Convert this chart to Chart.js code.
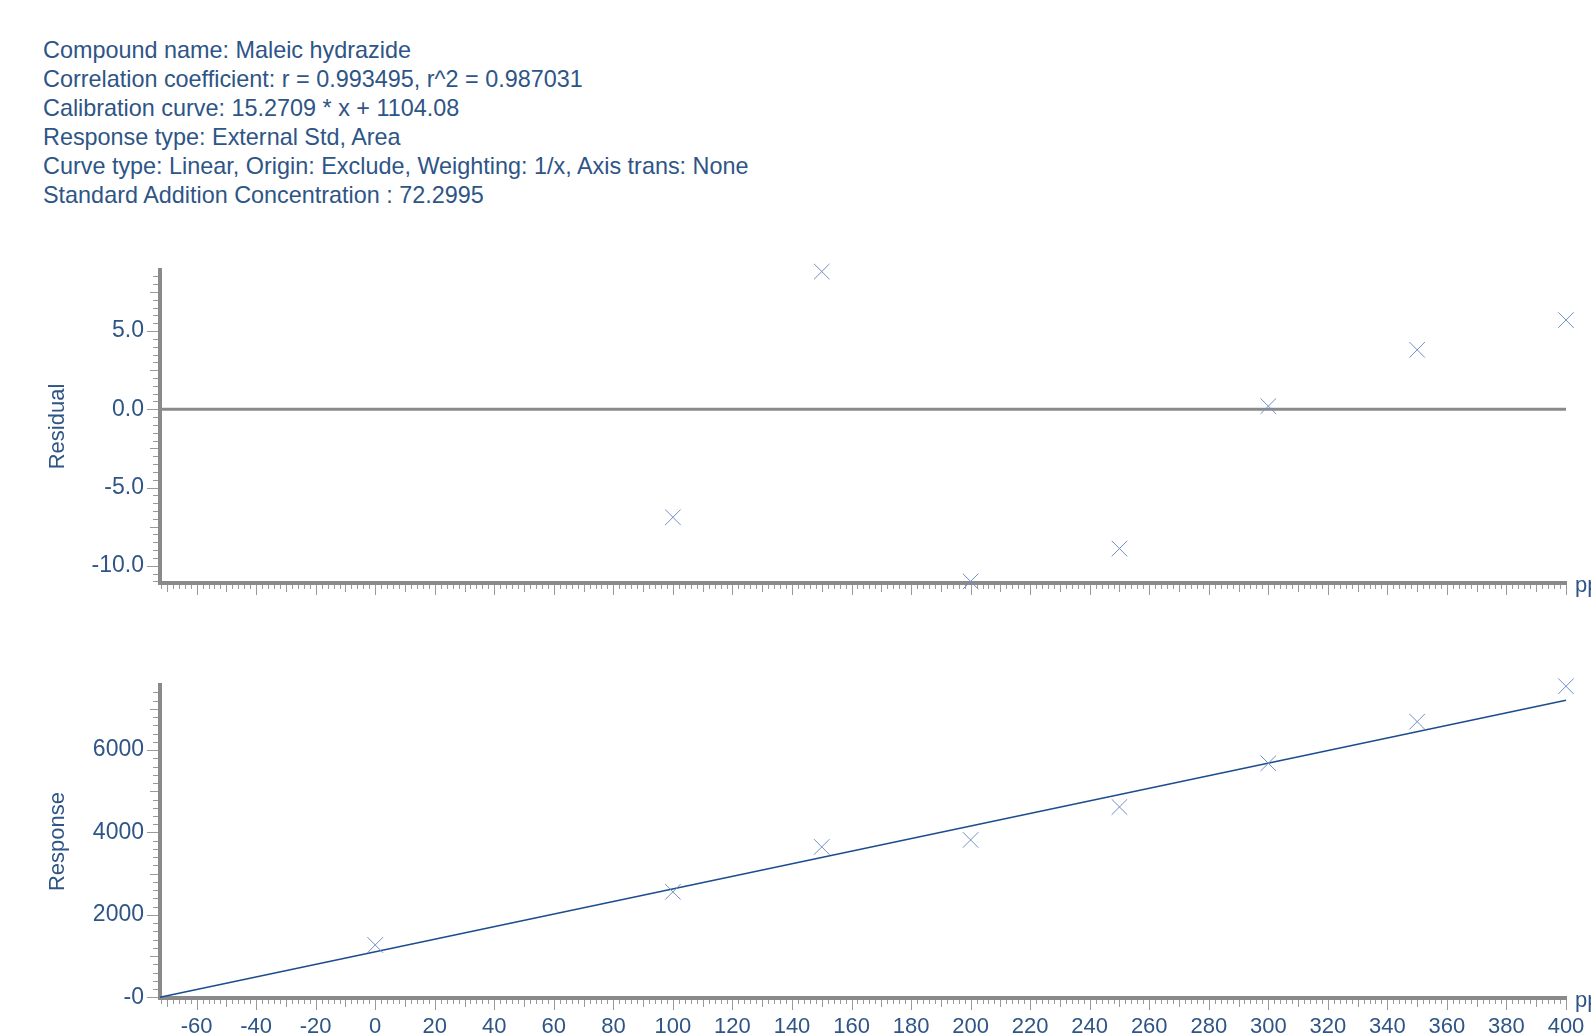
<!DOCTYPE html>
<html>
<head>
<meta charset="utf-8">
<script src="https://cdn.jsdelivr.net/npm/chart.js@4.4.1/dist/chart.umd.min.js"></script>
<style>
  body { margin: 0; background: #fff; overflow: hidden; width: 1591px; height: 1034px; position: relative; font-family: "Liberation Sans", Arial, sans-serif; }
  #info { position: absolute; left: 43px; top: 36px; font-size: 23.4px; line-height: 29px; color: #2e5586; white-space: pre; }
  canvas { position: absolute; left: 0; }
</style>
</head>
<body>
<div id="info"></div>
<canvas id="resid" width="1591" height="360" style="top:240px"></canvas>
<canvas id="resp" width="1591" height="374" style="top:660px"></canvas>
<script>
// header lines
var infoLines = [
  "Compound name: Maleic hydrazide",
  "Correlation coefficient: r = 0.993495, r^2 = 0.987031",
  "Calibration curve: 15.2709 * x + 1104.08",
  "Response type: External Std, Area",
  "Curve type: Linear, Origin: Exclude, Weighting: 1/x, Axis trans: None",
  "Standard Addition Concentration : 72.2995"
];

// residual plot (no point at 0)
var residLevels = [100, 150, 200, 250, 300, 350, 400];
var residuals = [-6.9, 8.8, -11.0, -8.9, 0.2, 3.8, 5.7];

// response plot
var levels = [0, 100, 150, 200, 250, 300, 350, 400];
var responses = [1270, 2560, 3650, 3820, 4620, 5680, 6690, 7550];

// fitted line
var slope = 15.2709;
var intercept = 1104.08;
var addConc = 72.2995;

// labelled ticks
var xTicks = [-60, -40, -20, 0, 20, 40, 60, 80, 100, 120, 140, 160, 180, 200, 220, 240, 260, 280, 300, 320, 340, 360, 380, 400];
var residTicks = [-10, -5, 0, 5];
var respTicks = [0, 2000, 4000, 6000];

var xMin = -addConc, xMax = 400;
var textColor = '#2e5586';
var axisColor = '#8a8a8a';
var markColor = '#6f8fc6';
var font = '"Liberation Sans", Arial, sans-serif';

document.getElementById('info').textContent = infoLines.join('\n');

function isMult(v, step) {
  var q = v / step;
  return Math.abs(q - Math.round(q)) < 1e-6;
}

// small tick marks on both axes + unit label
var tickMarks = {
  id: 'tickMarks',
  afterDraw: function(chart, args, opts) {
    var ctx = chart.ctx, x = chart.scales.x, y = chart.scales.y, a = chart.chartArea;
    ctx.save();
    ctx.strokeStyle = '#999';
    ctx.lineWidth = 1;
    ctx.beginPath();
    var i, v, p, len;
    for (i = Math.ceil(y.min / opts.yMinor); i * opts.yMinor <= y.max; i++) {
      v = i * opts.yMinor;
      p = Math.round(y.getPixelForValue(v)) + 0.5;
      len = isMult(v, opts.yMajor) ? 11 : isMult(v, opts.yMid) ? 8 : 5;
      ctx.moveTo(a.left - 2, p);
      ctx.lineTo(a.left - 2 - len, p);
    }
    for (i = Math.ceil(x.min / opts.xMinor); i * opts.xMinor <= x.max; i++) {
      v = i * opts.xMinor;
      p = Math.round(x.getPixelForValue(v)) + 0.5;
      len = isMult(v, opts.xMajor) ? 10 : isMult(v, opts.xMid) ? 7 : 4;
      ctx.moveTo(p, a.bottom + 2);
      ctx.lineTo(p, a.bottom + 2 + len);
    }
    ctx.stroke();
    ctx.fillStyle = textColor;
    ctx.font = '22px ' + font;
    ctx.textBaseline = 'alphabetic';
    ctx.fillText('ppb', a.right + 9, a.bottom + 9);
    ctx.restore();
  }
};

function fixTicks(values) {
  return function(s) { s.ticks = values.map(function(v) { return { value: v }; }); };
}

function xScale(showLabels, h) {
  return {
    type: 'linear', min: xMin, max: xMax,
    grid: { display: false, drawTicks: false },
    border: { color: axisColor, width: 4 },
    ticks: {
      display: showLabels, autoSkip: false,
      maxRotation: 0, padding: 16, color: textColor, font: { size: 22, family: font }
    },
    afterBuildTicks: fixTicks(xTicks),
    afterFit: function(s) { s.height = h; s.paddingLeft = 0; s.paddingRight = 0; }
  };
}

function yScale(title, min, max, values, fmt) {
  return {
    type: 'linear', min: min, max: max,
    grid: { display: false, drawTicks: false },
    border: { color: axisColor, width: 4 },
    title: { display: true, text: title, color: textColor, font: { size: 22, family: font }, padding: { top: 45, bottom: 0 } },
    ticks: { padding: 16, color: textColor, font: { size: 23, family: font }, callback: fmt },
    afterBuildTicks: fixTicks(values),
    afterFit: function(s) { s.width = 160; s.paddingTop = 0; s.paddingBottom = 0; }
  };
}

var residPts = residLevels.map(function(x, i) { return { x: x, y: residuals[i] }; });
new Chart(document.getElementById('resid'), {
  type: 'scatter',
  data: {
    datasets: [
      { data: residPts, pointStyle: 'crossRot', pointRadius: 11, borderColor: markColor, borderWidth: 1, clip: false },
      { data: [{ x: xMin, y: 0 }, { x: xMax, y: 0 }], showLine: true, pointRadius: 0, borderColor: axisColor, borderWidth: 3 }
    ]
  },
  options: {
    responsive: false, animation: false,
    layout: { padding: { top: 30, right: 25, left: 0, bottom: 0 } },
    plugins: { legend: { display: false }, tooltip: { enabled: false },
      tickMarks: { yMinor: 0.5, yMid: 2.5, yMajor: 5, xMinor: 2, xMid: 10, xMajor: 20 } },
    scales: {
      x: xScale(false, 17),
      y: yScale('Residual', -11.1, 8.9, residTicks, function(v) { return v.toFixed(1); })
    }
  },
  plugins: [tickMarks]
});

var respPts = levels.map(function(x, i) { return { x: x, y: responses[i] }; });
var fitLine = [xMin, xMax].map(function(x) { return { x: x, y: slope * x + intercept }; });
new Chart(document.getElementById('resp'), {
  type: 'scatter',
  data: {
    datasets: [
      { data: respPts, pointStyle: 'crossRot', pointRadius: 11, borderColor: markColor, borderWidth: 1, clip: false },
      { data: fitLine, showLine: true, pointRadius: 0, borderColor: '#1c4c8e', borderWidth: 1.5, clip: false }
    ]
  },
  options: {
    responsive: false, animation: false,
    layout: { padding: { top: 25, right: 25, left: 0, bottom: 0 } },
    plugins: { legend: { display: false }, tooltip: { enabled: false },
      tickMarks: { yMinor: 200, yMid: 1000, yMajor: 2000, xMinor: 2, xMid: 10, xMajor: 20 } },
    scales: {
      x: xScale(true, 36),
      y: yScale('Response', -17, 7580, respTicks, function(v) { return v === 0 ? '-0' : String(v); })
    }
  },
  plugins: [tickMarks]
});
</script>
</body>
</html>
